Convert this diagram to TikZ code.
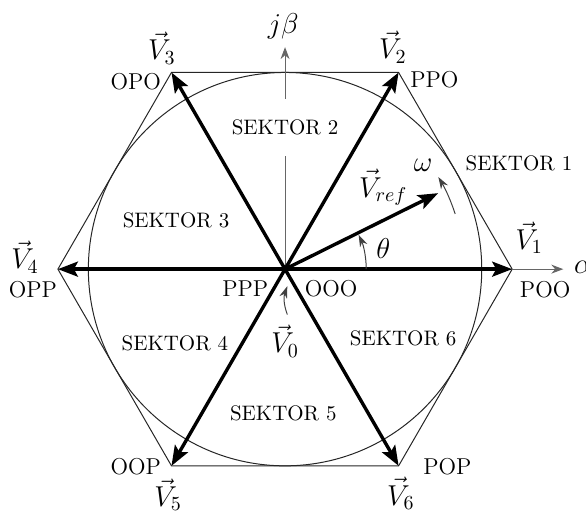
\documentclass[tikz,border=0pt]{standalone}
\usetikzlibrary{arrows.meta}
\tikzset{hex line/.style={line width=0.5pt, color=black!85}}
\tikzset{axis line/.style={line width=0.5pt, color=black!60, -{Stealth[length=6pt,width=4.5pt]}}}

\begin{document}
\begin{tikzpicture}[
		vec arrow/.style={line width=1.7pt, -{Stealth[length=10pt,width=7.5pt,inset=2pt]}},
		small turn/.style={line width=0.5pt, color=black!75, -{Stealth[length=6pt,width=4pt]}},
		sector/.style={font=\fontsize{10.5}{12}\selectfont, inner sep=1pt},
		state/.style={font=\fontsize{11.5}{13}\selectfont, inner sep=0pt},
		vlabel/.style={font=\Large, inner sep=0pt}
		]    % vlabel is used for every math label
		\useasboundingbox (-5.02,-4.32) rectangle (5.30,4.74);
		% corners of the hexagon
		\coordinate (O) at (0,0);
		\foreach \i in {1,...,6}
			\coordinate (P\i) at ({60*(\i-1)}:4);
		\coordinate (alpha tip) at (4.9,0);
		\coordinate (beta tip) at (0,3.91);
		% hexagon and inscribed circle
		\draw[hex line] (P1) -- (P2) -- (P3) -- (P4) -- (P5) -- (P6) -- cycle;
		\draw[hex line] (O) circle (3.464);
		% axes
		\draw[axis line] (O) -- (alpha tip);
		\draw[axis line] (O) -- (beta tip);
		\node[vlabel] (alpha) at (5.25,0.03) {$\alpha$};
		\node[vlabel] (beta) at (-0.03,4.27) {$j\beta$};
		% sectors
		\node[sector] (S1) at (4.12,1.87) {SEKTOR 1};
		\node[sector, fill=white, minimum height=1cm, inner xsep=2pt] (S2) at (0,2.5) {SEKTOR 2};
		\node[sector] (S3) at (-1.92,0.86) {SEKTOR 3};
		\node[sector] (S4) at (-1.94,-1.30) {SEKTOR 4};
		\node[sector] (S5) at (-0.03,-2.54) {SEKTOR 5};
		\node[sector] (S6) at (2.08,-1.22) {SEKTOR 6};
		% switching vectors
		\foreach \i in {1,...,6}
			\draw[vec arrow] (O) -- (P\i);
		% reference vector
		\coordinate (ref tip) at (26.4:3.01);
		\draw[vec arrow] (O) -- (ref tip);
		\node[vlabel] (Vref) at (1.73,1.44) {$\vec{V}_{ref}$};
		% angle and rotation
		\draw[small turn] (0:1.43) arc (0:25:1.43);
		\node[vlabel] (theta) at (1.73,0.37) {$\theta$};
		\draw[small turn] (18:3.15) arc (18:31:3.15);
		\node[vlabel] (omega) at (2.43,1.82) {$\omega$};
		% vector labels and switching states
		\node[vlabel] (V1) at (4.30,0.55) {$\vec{V}_1$};
		\node[state] (POO) at (4.58,-0.37) {POO};
		\node[vlabel] (V2) at (1.90,3.91) {$\vec{V}_2$};
		\node[state] (PPO) at (2.63,3.33) {PPO};
		\node[vlabel] (V3) at (-2.17,3.89) {$\vec{V}_3$};
		\node[state] (OPO) at (-2.63,3.30) {OPO};
		\node[vlabel] (V4) at (-4.58,0.21) {$\vec{V}_4$};
		\node[state] (OPP) at (-4.44,-0.37) {OPP};
		\node[vlabel] (V5) at (-2.06,-3.97) {$\vec{V}_5$};
		\node[state] (OOP) at (-2.63,-3.47) {OOP};
		\node[vlabel] (V6) at (2.04,-3.95) {$\vec{V}_6$};
		\node[state] (POP) at (2.86,-3.47) {POP};
		% zero vector
		\node[state] (PPP) at (-0.70,-0.34) {PPP};
		\node[state] (OOO) at (0.81,-0.34) {OOO};
		\node[vlabel] (V0) at (0,-1.27) {$\vec{V}_0$};
		\coordinate (zero tip) at (0.04,-0.30);
		\draw[small turn] (0.04,-0.80) to[bend left=20] (zero tip);
	\end{tikzpicture}
\end{document}
